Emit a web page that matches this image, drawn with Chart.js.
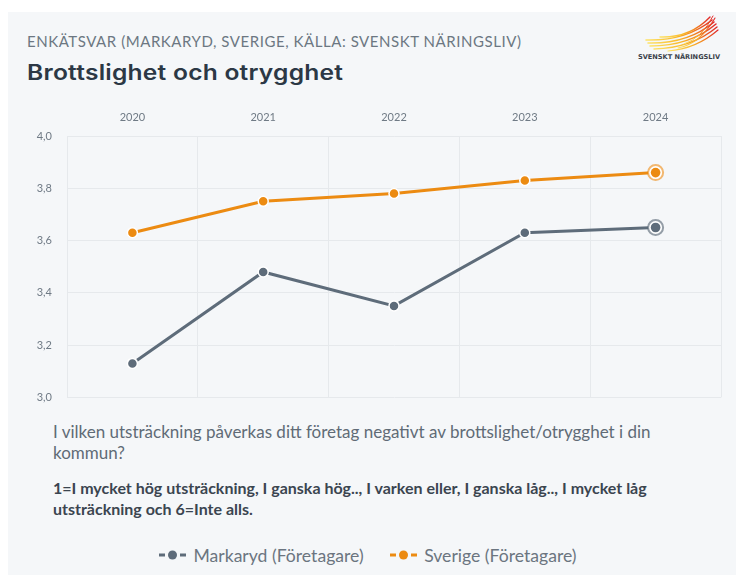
<!DOCTYPE html>
<html>
<head>
<meta charset="utf-8">
<script src="https://cdn.jsdelivr.net/npm/chart.js@4/dist/chart.umd.min.js"></script>
<style>
  html, body { margin:0; padding:0; background:#ffffff; }
  body { width:736px; height:575px; position:relative; overflow:hidden; font-family: Lato, "Open Sans", sans-serif; }
  #panel { position:absolute; left:8px; top:12px; width:728px; height:563px; background:#f5f7f9; }
  #sup { position:absolute; left:27px; top:32px; font-size:15px; letter-spacing:0.55px; color:#6c7782; white-space:nowrap; }
  #title { position:absolute; left:27px; top:60px; font-family: Inter, sans-serif; font-weight:600; font-size:21px; color:#2c3845; white-space:nowrap; transform: scaleX(1.17); transform-origin: left center; letter-spacing:0.2px; }
  #chartBox { position:absolute; left:8px; top:100px; width:728px; height:319px; }
  #q { position:absolute; left:53px; top:421px; width:625px; font-size:17px; line-height:21px; color:#606b76; }
  #def { position:absolute; left:53px; top:477px; width:680px; font-size:16px; line-height:21px; font-weight:bold; color:#3b4550; }
  #legend { position:absolute; left:0; top:543px; width:736px; text-align:center; font-size:17.6px; color:#6b7580; white-space:nowrap; }
  .li { display:inline-flex; align-items:center; margin:0 11px; }
  .sym { display:inline-block; margin-right:7px; }
  #logo { position:absolute; left:634px; top:14px; width:92px; height:40px; }
  #logoText { position:absolute; left:630px; top:53px; width:98px; text-align:center; font-family: "DejaVu Sans", sans-serif; font-weight:bold; font-size:6.6px; color:#3a3f4a; white-space:nowrap; }
</style>
</head>
<body>
<div id="panel"></div>
<div id="sup">ENKÄTSVAR (MARKARYD, SVERIGE, KÄLLA: SVENSKT NÄRINGSLIV)</div>
<div id="title">Brottslighet och otrygghet</div>
<svg id="logo" viewBox="0 0 92 40">
  <defs>
    <linearGradient id="g" x1="0" y1="0" x2="1" y2="0">
      <stop offset="0" stop-color="#fde36a"/>
      <stop offset="0.45" stop-color="#f9bb2b"/>
      <stop offset="0.7" stop-color="#f2841e"/>
      <stop offset="1" stop-color="#e0262c"/>
    </linearGradient>
  </defs>
  <g fill="none" stroke="url(#g)" stroke-linecap="round">
    <path d="M12 26 Q 52 27, 78 6" stroke-width="1.6"/>
    <path d="M14 29 Q 54 30, 80 8" stroke-width="1.6"/>
    <path d="M16 32 Q 56 32, 82 10" stroke-width="1.5"/>
    <path d="M20 35 Q 58 34, 83 13" stroke-width="1.4"/>
    <path d="M26 23 Q 56 24, 76 3" stroke-width="1.4"/>
    <path d="M34 37 Q 62 35, 84 16" stroke-width="1.2"/>
    <path d="M44 34 Q 66 30, 81 4" stroke-width="1.1"/>
    <path d="M50 30 Q 68 24, 79 2" stroke-width="1"/>
  </g>
</svg>
<div id="logoText">SVENSKT NÄRINGSLIV</div>
<div id="chartBox"><canvas id="c" width="728" height="319"></canvas></div>
<div id="q">I vilken utsträckning påverkas ditt företag negativt av brottslighet/otrygghet i din kommun?</div>
<div id="def">1=I mycket hög utsträckning, I ganska hög.., I varken eller, I ganska låg.., I mycket låg utsträckning och 6=Inte alls.</div>
<div id="legend">
  <span class="li"><svg class="sym" width="27" height="10"><rect x="0" y="3.5" width="6" height="3" fill="#5e6c7a"/><circle cx="13.5" cy="5" r="4.5" fill="#5e6c7a"/><rect x="21" y="3.5" width="6" height="3" fill="#5e6c7a"/></svg>Markaryd (Företagare)</span>
  <span class="li"><svg class="sym" width="27" height="10"><rect x="0" y="3.5" width="6" height="3" fill="#ec8b12"/><circle cx="13.5" cy="5" r="4.5" fill="#ec8b12"/><rect x="21" y="3.5" width="6" height="3" fill="#ec8b12"/></svg>Sverige (Företagare)</span>
</div>
<script>
const years = ['2020', '2021', '2022', '2023', '2024'];
const markaryd = [3.13, 3.48, 3.35, 3.63, 3.65];
const sverige = [3.63, 3.75, 3.78, 3.83, 3.86];
const seriesNames = ['Markaryd (Företagare)', 'Sverige (Företagare)'];
const slate = '#5e6c7a';
const orange = '#ec8b12';

const lastRing = {
  id: 'lastRing',
  afterDatasetsDraw(chart) {
    const ctx = chart.ctx;
    chart.data.datasets.forEach((ds, i) => {
      const meta = chart.getDatasetMeta(i);
      const pt = meta.data[meta.data.length - 1];
      if (!pt) return;
      ctx.save();
      ctx.beginPath();
      ctx.arc(pt.x, pt.y, 7.5, 0, Math.PI * 2);
      ctx.fillStyle = '#ffffff';
      ctx.fill();
      ctx.lineWidth = 2;
      ctx.strokeStyle = ds.ringColor;
      ctx.stroke();
      ctx.beginPath();
      ctx.arc(pt.x, pt.y, 4.8, 0, Math.PI * 2);
      ctx.fillStyle = ds.borderColor;
      ctx.fill();
      ctx.restore();
    });
  }
};

new Chart(document.getElementById('c'), {
  type: 'line',
  data: {
    labels: years,
    datasets: [
      { label: seriesNames[0], data: markaryd, borderColor: slate, backgroundColor: slate, ringColor: 'rgba(94,108,122,0.65)',
        borderWidth: 3, pointRadius: 5, pointHoverRadius: 5, pointBorderColor: '#ffffff', pointBorderWidth: 1.5, pointBackgroundColor: slate, tension: 0 },
      { label: seriesNames[1], data: sverige, borderColor: orange, backgroundColor: orange, ringColor: 'rgba(236,139,18,0.6)',
        borderWidth: 3, pointRadius: 5, pointHoverRadius: 5, pointBorderColor: '#ffffff', pointBorderWidth: 1.5, pointBackgroundColor: orange, tension: 0 }
    ]
  },
  options: {
    responsive: false,
    animation: false,
    layout: { padding: { left: 0, right: 15, top: 0, bottom: 5 } },
    plugins: { legend: { display: false }, tooltip: { enabled: false } },
    scales: {
      x: {
        position: 'top',
        offset: true,
        grid: { offset: true, color: '#e6e9ec', drawTicks: false, tickLength: 0 },
        border: { display: true, color: '#e6e9ec' },
        ticks: { padding: 12, color: '#6f7a85', font: { family: 'Lato, sans-serif', size: 11 } },
        afterFit(s) { s.height = 36; }
      },
      y: {
        min: 3.0, max: 4.0,
        grid: { color: '#e6e9ec', drawTicks: false, tickLength: 0 },
        border: { display: true, color: '#e6e9ec' },
        ticks: { stepSize: 0.2, padding: 15, color: '#6f7a85', font: { family: 'Lato, sans-serif', size: 11 },
          callback: v => Number(v).toFixed(1).replace('.', ',') },
        afterFit(s) { s.width = 59; }
      }
    }
  },
  plugins: [lastRing]
});
</script>
</body>
</html>
